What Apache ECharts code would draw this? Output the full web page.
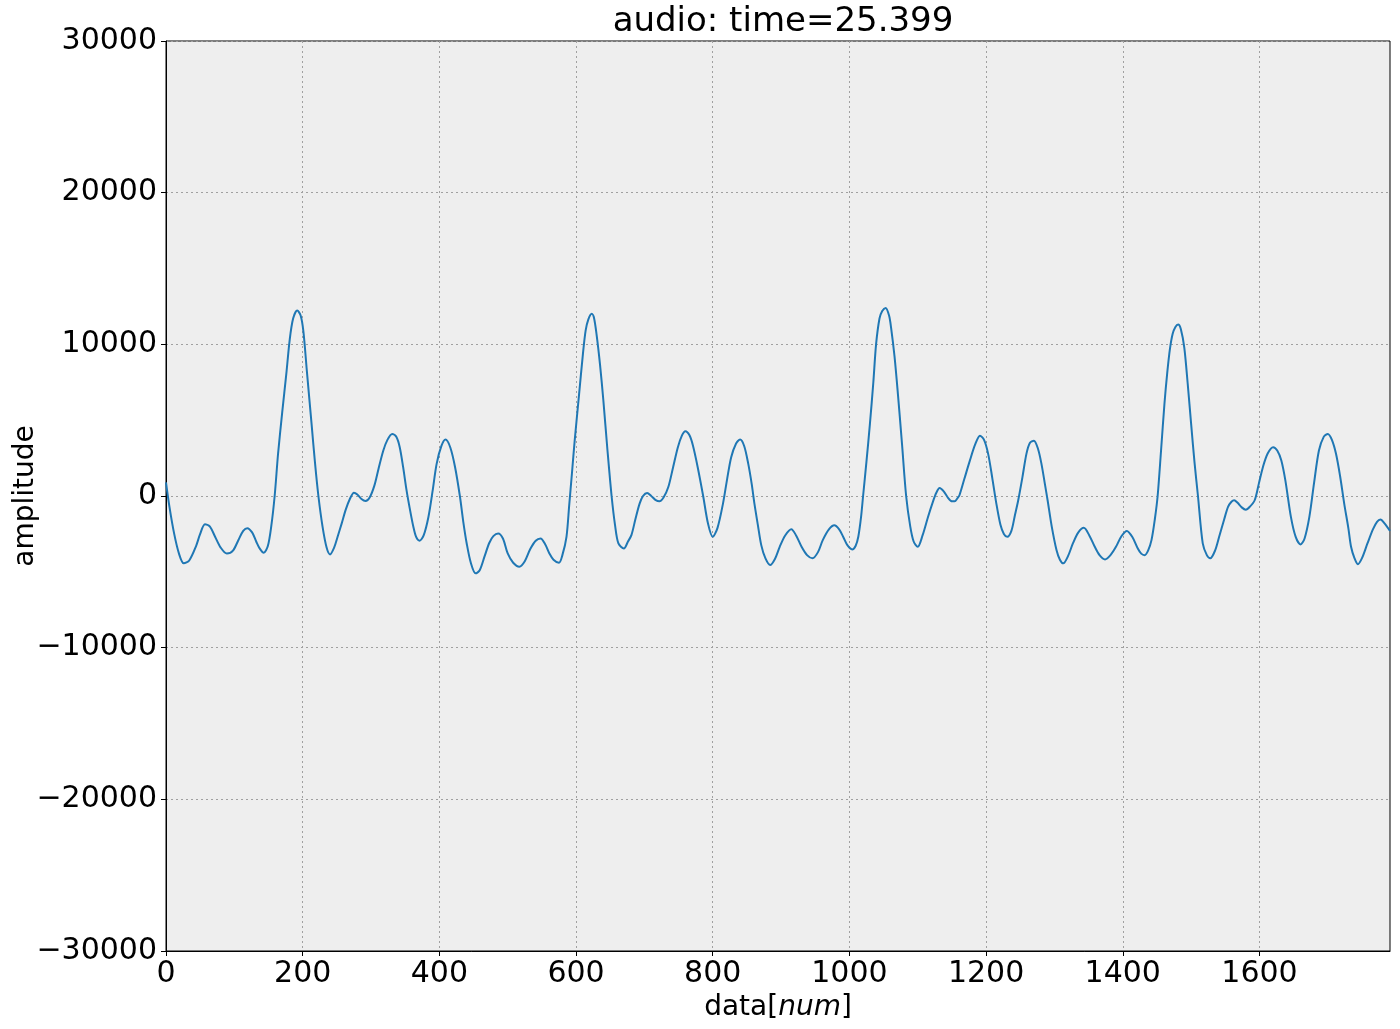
<!DOCTYPE html>
<html>
<head>
<meta charset="utf-8">
<script src="https://cdn.jsdelivr.net/npm/echarts@6/dist/echarts.min.js"></script>
<style>
html,body{margin:0;padding:0;background:#fff;}
#chart{width:1400px;height:1029px;}
</style>
</head>
<body>
<div id="chart"></div>
<script>
// Waveform samples [index, amplitude]
const waveform = [
  [0,900],[5,-700],[12,-2500],[19,-3800],[26,-4440],[34,-4250],[44,-3300],[50,-2500],[57,-1860],[64,-2000],
  [72,-2700],[80,-3400],[89,-3790],[98,-3600],[106,-2900],[113,-2300],[119,-2120],[126,-2400],[132,-3000],[137,-3450],
  [143,-3740],[149,-3300],[154,-2000],[159,0],[164,2800],[170,5500],[176,8030],[181,10300],[186,11700],[192,12230],
  [197,11900],[201,10870],[206,8300],[213,4750],[218,2200],[223,0],[229,-2000],[235,-3400],[240,-3850],[246,-3400],
  [251,-2700],[257,-1820],[263,-900],[269,-200],[275,220],[280,100],[286,-200],[292,-330],[298,-100],
  [305,700],[311,1800],[318,3000],[324,3700],[331,4090],[337,3900],[342,3220],[347,1900],[352,370],[357,-900],
  [362,-2040],[366,-2700],[371,-2950],[377,-2600],[384,-1380],[390,300],[396,2120],[403,3300],[409,3720],[416,3200],
  [423,1900],[430,0],[435,-1700],[440,-3130],[446,-4400],[453,-5100],[459,-4900],[466,-4000],[473,-3100],[479,-2650],
  [486,-2470],[493,-2800],[500,-3790],[508,-4400],[517,-4660],[525,-4300],[533,-3500],[541,-2950],[548,-2800],[555,-3200],
  [561,-3790],[567,-4200],[575,-4400],[580,-3900],[586,-2690],[590,-600],[594,1500],[598,3650],[604,6500],[610,9340],
  [614,10900],[618,11640],[623,12010],[626,11800],[630,10660],[635,8700],[640,6280],[646,3000],[652,0],[657,-1900],
  [662,-3130],[670,-3460],[676,-3000],[681,-2580],[687,-1500],[693,-500],[698,0],[704,200],[710,0],[716,-250],
  [722,-350],[728,-100],[735,590],[742,1900],[749,3220],[755,4000],[760,4270],[766,4000],[771,3330],[778,1900],
  [786,0],[793,-1800],[800,-2690],[807,-2100],[815,-500],[821,1100],[827,2560],[834,3450],[840,3720],[846,3300],
  [852,2120],[857,800],[861,-500],[866,-1900],[871,-3240],[877,-4100],[884,-4550],[891,-4150],[898,-3350],[906,-2600],
  [915,-2190],[922,-2600],[930,-3350],[938,-3900],[946,-4110],[954,-3700],[961,-2910],[970,-2200],[978,-1930],[985,-2200],
  [991,-2700],[997,-3240],[1004,-3520],[1009,-3300],[1013,-2690],[1017,-1400],[1020,0],[1025,2300],[1030,4750],[1035,7500],
  [1039,10000],[1044,11700],[1048,12200],[1053,12400],[1058,11900],[1061,11090],[1066,9200],[1071,6700],[1077,3400],[1083,0],
  [1089,-2000],[1094,-3000],[1100,-3350],[1107,-2600],[1115,-1380],[1122,-400],[1127,200],[1132,520],[1138,300],[1144,-100],
  [1150,-350],[1154,-350],[1158,-150],[1161,50],[1168,1100],[1176,2300],[1184,3400],[1191,3980],[1197,3700],[1203,2780],
  [1209,1200],[1215,-500],[1221,-1900],[1226,-2500],[1231,-2690],[1237,-2300],[1242,-1300],[1247,-280],[1253,1200],[1259,2780],
  [1264,3500],[1270,3650],[1276,3100],[1281,2120],[1286,800],[1290,-280],[1296,-2000],[1303,-3560],[1308,-4200],[1313,-4440],
  [1320,-3950],[1327,-3130],[1335,-2400],[1343,-2100],[1351,-2600],[1359,-3350],[1366,-3900],[1374,-4180],[1382,-3900],[1390,-3350],
  [1398,-2650],[1406,-2300],[1414,-2700],[1422,-3460],[1427,-3800],[1432,-3900],[1437,-3600],[1442,-2910],[1447,-1500],[1451,0],
  [1456,3000],[1461,6100],[1465,8100],[1469,9700],[1473,10700],[1477,11150],[1481,11310],[1485,11000],[1490,9780],[1495,7400],
  [1500,4750],[1505,2200],[1510,0],[1517,-3130],[1523,-3900],[1528,-4110],[1535,-3600],[1541,-2690],[1548,-1600],[1554,-720],
  [1559,-380],[1563,-280],[1568,-450],[1574,-750],[1580,-900],[1586,-700],[1593,-280],[1599,800],[1605,1900],[1612,2800],
  [1620,3220],[1626,3000],[1632,2340],[1638,1000],[1646,-1380],[1653,-2700],[1660,-3190],[1666,-2800],[1673,-1380],[1680,900],
  [1687,3000],[1694,3900],[1700,4090],[1706,3700],[1712,2780],[1718,1300],[1724,-500],[1730,-2100],[1734,-3350],[1739,-4100],
  [1744,-4500],[1750,-4100],[1758,-3130],[1766,-2200],[1772,-1700],[1777,-1550],[1783,-1800],[1791,-2300]
];

// Axis ticks and labels
const xTicks = [0, 200, 400, 600, 800, 1000, 1200, 1400, 1600];
const yTicks = [-30000, -20000, -10000, 0, 10000, 20000, 30000];
const titleText = 'audio: time=25.399';
const xAxisNamePlain = 'data[';
const xAxisNameItalic = 'num';
const yAxisName = 'amplitude';

const FONT = '"DejaVu Sans", sans-serif';
const chart = echarts.init(document.getElementById('chart'), null, {renderer: 'canvas'});
chart.setOption({
  animation: false,
  backgroundColor: '#ffffff',
  title: {
    text: titleText,
    left: 778,
    textAlign: 'center',
    top: 0,
    textStyle: {fontFamily: FONT, fontSize: 34, fontWeight: 'normal', color: '#000'}
  },
  grid: {
    left: 166, right: 10, top: 41, bottom: 78,
    show: true, backgroundColor: '#eeeeee', borderColor: '#000', borderWidth: 1,
    containLabel: false,
    outerBoundsMode: 'none'
  },
  xAxis: {
    type: 'value', min: 0, max: 1791, interval: 200,
    axisLine: {show: true, onZero: false, lineStyle: {color: '#000', width: 1}},
    axisTick: {show: true, length: 5, inside: false, customValues: xTicks, lineStyle: {color: '#000'}},
    axisLabel: {
      customValues: xTicks, margin: 8, color: '#000', fontSize: 30, fontFamily: FONT,
      formatter: v => String(v)
    },
    splitLine: {show: true, lineStyle: {color: '#a0a0a0', type: [2, 3], width: 1}},
    name: xAxisNamePlain + '{i|' + xAxisNameItalic + '}]',
    nameLocation: 'middle',
    nameGap: 40,
    nameTextStyle: {
      fontFamily: FONT, fontSize: 28, color: '#000',
      rich: {i: {fontFamily: FONT, fontSize: 28, fontStyle: 'italic', color: '#000'}}
    }
  },
  yAxis: {
    type: 'value', min: -30000, max: 30000, interval: 10000,
    axisLine: {show: true, onZero: false, lineStyle: {color: '#000', width: 1}},
    axisTick: {show: true, length: 5, inside: false, customValues: yTicks, lineStyle: {color: '#000'}},
    axisLabel: {
      customValues: yTicks, margin: 9, color: '#000', fontSize: 30, fontFamily: FONT,
      formatter: v => (v < 0 ? '\u2212' + Math.abs(v) : String(v))
    },
    splitLine: {show: true, lineStyle: {color: '#a0a0a0', type: [2, 3], width: 1}},
    name: yAxisName,
    nameLocation: 'middle',
    nameGap: 126,
    nameMoveOverlap: false,
    nameRotate: 90,
    nameTextStyle: {fontFamily: FONT, fontSize: 28, color: '#000'}
  },
  series: [{
    type: 'line',
    data: waveform,
    showSymbol: false,
    smooth: 0.3,
    lineStyle: {color: '#1f77b4', width: 2},
    clip: true
  }]
});
</script>
</body>
</html>
